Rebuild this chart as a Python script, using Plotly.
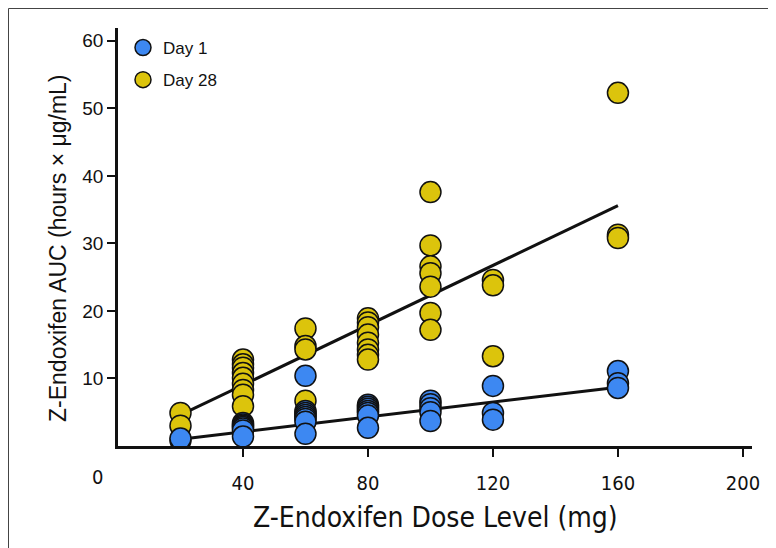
import plotly.graph_objects as go

# ---- data ----
day28_dose = [20, 20,
              40, 40, 40, 40, 40, 40, 40, 40, 40,
              60, 60, 60, 60,
              80, 80, 80, 80, 80, 80, 80, 80,
              100, 100, 100, 100, 100, 100, 100,
              120, 120, 120,
              160, 160, 160]
day28_auc = [4.9, 3.0,
             12.8, 12.1, 11.6, 10.8, 10.1, 9.2, 8.3, 7.6, 5.9,
             17.4, 14.8, 14.3, 6.7,
             18.9, 18.3, 17.6, 16.5, 15.3, 14.3, 13.5, 12.8,
             37.6, 29.7, 26.6, 25.6, 23.6, 19.7, 17.2,
             24.6, 23.8, 13.3,
             52.3, 31.3, 30.8]

day1_dose = [20, 20,
             40, 40, 40, 40, 40, 40, 40,
             60, 60, 60, 60, 60, 60, 60, 60,
             80, 80, 80, 80, 80, 80, 80,
             100, 100, 100, 100, 100,
             120, 120, 120,
             160, 160, 160]
day1_auc = [0.8, 1.1,
            3.4, 3.2, 3.0, 2.8, 2.6, 2.3, 1.4,
            10.4, 5.2, 4.9, 4.6, 4.3, 4.0, 3.6, 1.8,
            6.1, 5.8, 5.5, 5.2, 4.9, 4.5, 2.7,
            6.7, 6.2, 5.6, 5.0, 3.7,
            8.9, 4.9, 3.9,
            11.1, 9.3, 8.6]

fit_dose = [20, 160]
day28_fit = [4.6, 35.6]
day1_fit = [1.0, 8.7]

x_ticks = [40, 80, 120, 160, 200]
y_ticks = [10, 20, 30, 40, 50, 60]

x_title = "Z-Endoxifen Dose Level (mg)"
y_title = "Z-Endoxifen AUC (hours × μg/mL)"

BLUE = "#3d88f2"
YELLOW = "#dcc40c"
INK = "#111111"
W, H = 776, 548
ML, MR, MT, MB = 110, 32, 20, 110
PW, PH = W - ML - MR, H - MT - MB

NARROW = "Liberation Sans Narrow, Arial Narrow, DejaVu Sans Condensed, sans-serif"
SANS = "Liberation Sans, Arial, Helvetica, sans-serif"


def px_x(p):
    return (p - ML) / PW


def px_y(p):
    return (H - MB - p) / PH


fig = go.Figure()
fig.add_trace(go.Scatter(x=fit_dose, y=day28_fit, mode="lines",
                         line=dict(color=INK, width=3),
                         showlegend=False, hoverinfo="skip"))
fig.add_trace(go.Scatter(x=fit_dose, y=day1_fit, mode="lines",
                         line=dict(color=INK, width=3),
                         showlegend=False, hoverinfo="skip"))
fig.add_trace(go.Scatter(x=day28_dose, y=day28_auc, mode="markers", name="Day 28",
                         legendgroup="d28", legendrank=2,
                         marker=dict(size=21, color=YELLOW,
                                     line=dict(color=INK, width=1.5))))
fig.add_trace(go.Scatter(x=day1_dose, y=day1_auc, mode="markers", name="Day 1",
                         legendgroup="d1", legendrank=1,
                         marker=dict(size=21, color=BLUE,
                                     line=dict(color=INK, width=1.5))))

# outer frame of the figure
fig.add_shape(type="rect", xref="paper", yref="paper",
              x0=px_x(0.5), x1=px_x(W - 0.5), y0=px_y(H - 0.5), y1=px_y(0.5),
              line=dict(color="#444444", width=1), fillcolor="rgba(0,0,0,0)")

# origin label
fig.add_annotation(text="0", xref="paper", yref="paper",
                   x=px_x(89), y=px_y(469), xanchor="center", yanchor="middle",
                   showarrow=False,
                   font=dict(family=NARROW, size=20, color=INK))

# axis titles
fig.add_annotation(text=x_title, xref="paper", yref="paper",
                   x=px_x(427), y=px_y(509), xanchor="center", yanchor="middle",
                   showarrow=False,
                   font=dict(family=NARROW, size=28, color=INK))
fig.add_annotation(text=y_title, xref="paper", yref="paper",
                   x=px_x(50), y=px_y(240), xanchor="center", yanchor="middle",
                   showarrow=False, textangle=-90,
                   font=dict(family=SANS, size=23, color=INK))

fig.update_layout(
    width=W, height=H,
    margin=dict(l=ML, r=MR, t=MT, b=MB, autoexpand=False),
    paper_bgcolor="white", plot_bgcolor="white",
    showlegend=True,
    legend=dict(x=px_x(115), y=px_y(22), xanchor="left", yanchor="top",
                font=dict(family=SANS, size=17, color=INK),
                tracegroupgap=7, bgcolor="rgba(0,0,0,0)"),
    xaxis=dict(range=[0, 202.9], tickvals=x_ticks, ticktext=[str(v) for v in x_ticks],
               showgrid=False, zeroline=False, showline=True, automargin=False,
               linecolor=INK, linewidth=2.5,
               ticks="outside", ticklen=8, tickwidth=2, tickcolor=INK,
               ticklabelstandoff=9,
               tickfont=dict(family=NARROW, size=20, color=INK)),
    yaxis=dict(range=[0, 61.9], tickvals=y_ticks, ticktext=[str(v) for v in y_ticks],
               showgrid=False, zeroline=False, showline=True, automargin=False,
               linecolor=INK, linewidth=2.5,
               ticks="outside", ticklen=8, tickwidth=2, tickcolor=INK,
               tickfont=dict(family=SANS, size=19, color=INK)),
)

fig.write_html("out.html")
